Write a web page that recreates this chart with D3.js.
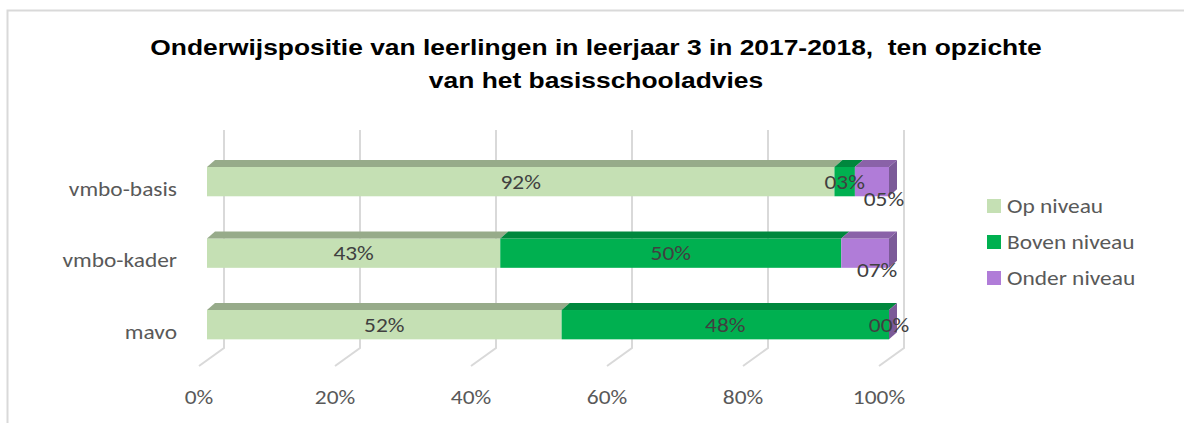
<!DOCTYPE html>
<html>
<head>
<meta charset="utf-8">
<script src="https://cdn.jsdelivr.net/npm/d3@7"></script>
<style>
  body { margin: 0; background: #fff; }
  svg { display: block; }
  text { font-family: Carlito, Calibri, Lato, sans-serif; }
</style>
</head>
<body>
<div id="chart"></div>
<script>
// data
const categories = ["vmbo-basis", "vmbo-kader", "mavo"];
const seriesNames = ["Op niveau", "Boven niveau", "Onder niveau"];
const opNiveau = [0.92, 0.43, 0.52];
const bovenNiveau = [0.03, 0.50, 0.48];
const onderNiveau = [0.05, 0.07, 0.00];
const tickValues = [0, 0.2, 0.4, 0.6, 0.8, 1];

const titleLines = [
  "Onderwijspositie van leerlingen in leerjaar 3 in 2017-2018,  ten opzichte",
  "van het basisschooladvies"
];

const frontColors = ["#c5e0b4", "#00b050", "#b07cd8"];
const topColors = ["#97ab8a", "#00873d", "#8a62a8"];
const sideColors = ["#8fa483", "#00803a", "#7b5a98"];

const width = 1184, height = 423;
const dx = 8, dy = 7;           // bar depth
const fdx = 25, fdy = 18;       // floor depth
const sx = 1.17;                // the original text is a bit wide

// place text at x,y, stretched sideways
const place = (px, py, s) => `translate(${px},${py}) scale(${s || sx},1)`;

const svg = d3.select("#chart").append("svg")
  .attr("width", width)
  .attr("height", height);

// chart border
svg.append("rect")
  .attr("x", 7.5).attr("y", 10.5)
  .attr("width", 1200).attr("height", 500)
  .attr("fill", "#fff")
  .attr("stroke", "#d9d9d9")
  .attr("stroke-width", 2);

// title
svg.append("g").selectAll("text")
  .data(titleLines)
  .enter()
  .append("text")
  .attr("transform", (d, i) => place(596, 55 + i * 33, 1.2))
  .attr("text-anchor", "middle")
  .style("font-family", "'Liberation Sans', Arial, sans-serif")
  .style("font-weight", "bold")
  .style("font-size", "22px")
  .style("white-space", "pre")
  .attr("fill", "#000")
  .text(d => d);

let x = d3.scaleLinear().domain([0, 1]).range([207, 889]);
let xBack = d3.scaleLinear().domain([0, 1]).range([224, 904]);

let y = d3.scaleBand()
  .domain(categories)
  .range([145.5, 360.8])
  .paddingInner(0.59)
  .paddingOuter(0.3);

let wallTop = 130, wallBottom = 348;

// gridlines (back wall + floor)
let grid = svg.append("g").attr("class", "grid");
grid.selectAll("path")
  .data(tickValues)
  .enter()
  .append("path")
  .attr("d", d => `M${xBack(d)},${wallTop}V${wallBottom}L${xBack(d) - fdx},${wallBottom + fdy}`)
  .attr("fill", "none")
  .attr("stroke", "#d9d9d9")
  .attr("stroke-width", 2);

// axis labels
svg.append("g").selectAll("text")
  .data(tickValues)
  .enter()
  .append("text")
  .attr("transform", d => place(xBack(d) - fdx, 404))
  .attr("text-anchor", "middle")
  .attr("fill", "#595959")
  .style("font-size", "20px")
  .text(d3.format(".0%"));

// category labels
svg.append("g").selectAll("text")
  .data(categories)
  .enter()
  .append("text")
  .attr("transform", d => place(177, y(d) + y.bandwidth() / 2 + 14))
  .attr("text-anchor", "end")
  .attr("fill", "#595959")
  .style("font-size", "20px")
  .text(d => d);

// stack
let rows = categories.map((c, i) => ({
  cat: c, 0: opNiveau[i], 1: bovenNiveau[i], 2: onderNiveau[i]
}));
let stack = d3.stack().keys([0, 1, 2])(rows);

let bars = svg.append("g").attr("class", "bars");
stack.forEach((layer, s) => {
  let g = bars.append("g");
  layer.forEach(d => {
    let x0 = x(d[0]), x1 = x(d[1]), yt = y(d.data.cat), h = y.bandwidth();
    g.append("rect")
      .attr("x", x0).attr("y", yt)
      .attr("width", x1 - x0).attr("height", h)
      .attr("fill", frontColors[s]);
    g.append("path")
      .attr("d", `M${x0},${yt}L${x0 + dx},${yt - dy}H${x1 + dx}L${x1},${yt}Z`)
      .attr("fill", topColors[s]);
    if (s === 2) {
      g.append("path")
        .attr("d", `M${x1},${yt}L${x1 + dx},${yt - dy}V${yt + h - dy}L${x1},${yt + h}Z`)
        .attr("fill", sideColors[s]);
    }
  });
});

// value labels
let labels = svg.append("g").attr("class", "labels");
stack.forEach((layer, s) => {
  let shifted = d => s === 2 && d[1] > d[0];
  labels.selectAll(null)
    .data(layer)
    .enter()
    .append("text")
    .attr("transform", d => place(
      x((d[0] + d[1]) / 2) + (shifted(d) ? 12 : 0),
      y(d.data.cat) + y.bandwidth() / 2 + 7 + (shifted(d) ? 17 : 0)))
    .attr("text-anchor", "middle")
    .attr("fill", "#404040")
    .style("font-size", "20px")
    .text(d => d3.format("02d")(Math.round((d[1] - d[0]) * 100)) + "%");
});

// legend
let legend = svg.append("g").selectAll("g")
  .data(seriesNames)
  .enter()
  .append("g")
  .attr("transform", (d, i) => `translate(987, ${199 + i * 36})`);
legend.append("rect")
  .attr("width", 14).attr("height", 14)
  .attr("fill", (d, i) => frontColors[i]);
legend.append("text")
  .attr("transform", place(20, 14))
  .attr("fill", "#595959")
  .style("font-size", "20px")
  .text(d => d);
</script>
</body>
</html>
